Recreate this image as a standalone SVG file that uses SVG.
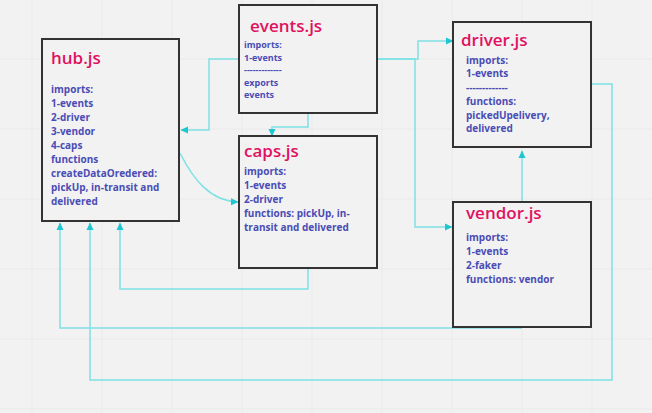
<svg xmlns="http://www.w3.org/2000/svg" width="652" height="413" viewBox="0 0 652 413">
<defs>
<marker id="arr" markerWidth="8" markerHeight="8" refX="7" refY="4" orient="auto" markerUnits="userSpaceOnUse">
<path d="M0,0.5 L7.5,4 L0,7.5 Z" fill="#1ec6cf"/>
</marker>
<pattern id="grid" x="31.5" y="-11.5" width="70" height="70" patternUnits="userSpaceOnUse">
<path d="M0,0 V70 M0,0 H70" fill="none" stroke="#e4e4e4" stroke-width="1"/>
</pattern>
</defs>
<style>
.box{fill:#f2f2f2;stroke:#333;stroke-width:2}
.title{font-family:"Open Sans",sans-serif;font-weight:600;font-size:17px;fill:#e0115f}
.body{font-family:"Open Sans",sans-serif;font-weight:700;font-size:10px;fill:#4a4cb5}
.small{font-size:9px}
.conn{fill:none;stroke:#7fe1e5;stroke-width:1.5}
</style>
<rect width="652" height="413" fill="#f2f2f2"/>
<rect width="652" height="413" fill="url(#grid)"/>

<g id="connectors">
<path class="conn" d="M239,59 H209 V130 H181" marker-end="url(#arr)"/>
<path class="conn" d="M308,113 V127 H272 V136" marker-end="url(#arr)"/>
<path class="conn" d="M180,153 C193,179 210,201 238,202" marker-end="url(#arr)"/>
<path class="conn" d="M377,59 H418 V41 H453" marker-end="url(#arr)"/>
<path class="conn" d="M377,59 H415 V227 H452" marker-end="url(#arr)"/>
<path class="conn" d="M522,201 V151" marker-end="url(#arr)"/>
<path class="conn" d="M308,268 V289 H120 V223" marker-end="url(#arr)"/>
<path class="conn" d="M522,328 H60 V223" marker-end="url(#arr)"/>
<path class="conn" d="M591,84 H612 V380 H90 V223" marker-end="url(#arr)"/>
</g>

<g id="hub">
<rect class="box" x="42" y="39" width="137" height="182"/>
<text class="title" x="51" y="64">hub.js</text>
<text class="body" x="51" y="93">imports:</text>
<text class="body" x="51" y="107">1-events</text>
<text class="body" x="51" y="121">2-driver</text>
<text class="body" x="51" y="135">3-vendor</text>
<text class="body" x="51" y="149">4-caps</text>
<text class="body" x="51" y="163">functions</text>
<text class="body" x="51" y="177">createDataOredered:</text>
<text class="body" x="51" y="191">pickUp, in-transit and</text>
<text class="body" x="51" y="205">delivered</text>
</g>

<g id="events">
<rect class="box" x="239" y="5" width="138" height="108"/>
<text class="title" x="250" y="32">events.js</text>
<text class="body small" x="244" y="48">imports:</text>
<text class="body small" x="244" y="60.5">1-events</text>
<text class="body small" x="244" y="73">-------------</text>
<text class="body small" x="244" y="85.5">exports</text>
<text class="body small" x="244" y="98">events</text>
</g>

<g id="caps">
<rect class="box" x="239" y="136" width="138" height="132"/>
<text class="title" x="244" y="157">caps.js</text>
<text class="body" x="244" y="175">imports:</text>
<text class="body" x="244" y="189">1-events</text>
<text class="body" x="244" y="203">2-driver</text>
<text class="body" x="244" y="217">functions: pickUp, in-</text>
<text class="body" x="244" y="231">transit and delivered</text>
</g>

<g id="driver">
<rect class="box" x="453" y="22" width="138" height="125"/>
<text class="title" x="461" y="46">driver.js</text>
<text class="body" x="466" y="63.5">imports:</text>
<text class="body" x="466" y="77">1-events</text>
<text class="body" x="466" y="91">-------------</text>
<text class="body" x="466" y="105">functions:</text>
<text class="body" x="466" y="118.5">pickedUpelivery,</text>
<text class="body" x="466" y="132">delivered</text>
</g>

<g id="vendor">
<rect class="box" x="453" y="202" width="138" height="125"/>
<text class="title" x="466" y="219">vendor.js</text>
<text class="body" x="466" y="241">imports:</text>
<text class="body" x="466" y="255">1-events</text>
<text class="body" x="466" y="269">2-faker</text>
<text class="body" x="466" y="283">functions: vendor</text>
</g>
</svg>
